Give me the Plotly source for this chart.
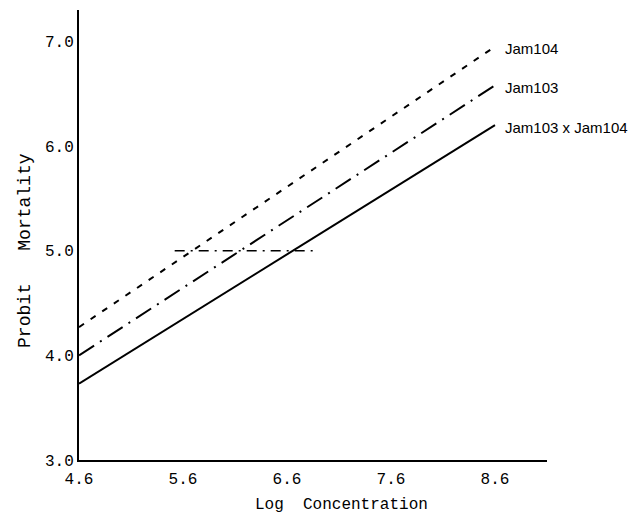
import plotly.graph_objects as go

# Fitted probit regression lines (log concentration vs probit mortality)
strains = ["Jam104", "Jam103", "Jam103 x Jam104"]
log_conc = [4.6, 8.6]
probit_jam104 = [4.27, 6.95]
probit_jam103 = [4.00, 6.58]
probit_cross = [3.73, 6.20]

# LC50 reference segment at probit 5.0
lc50_x = [5.52, 6.86]
lc50_y = [5.0, 5.0]

x_ticks = [4.6, 5.6, 6.6, 7.6, 8.6]
x_tick_text = ["4.6", "5.6", "6.6", "7.6", "8.6"]
y_ticks = [3.0, 4.0, 5.0, 6.0, 7.0]
y_tick_text = ["3.0", "4.0", "5.0", "6.0", "7.0"]

series = [
    (strains[0], probit_jam104, "6px,8px"),
    (strains[1], probit_jam103, "18px,7px,2px,7px"),
    (strains[2], probit_cross, "solid"),
]

mono = "Liberation Mono"

fig = go.Figure()
for name, ys, dash in series:
    fig.add_trace(go.Scatter(
        x=log_conc, y=ys, mode="lines", name=name,
        line=dict(color="black", width=2, dash=dash),
        showlegend=False,
    ))
    fig.add_annotation(
        x=log_conc[-1], y=ys[-1], text=name, showarrow=False,
        xanchor="left", yanchor="middle", xshift=8, yshift=-2,
        font=dict(family="Liberation Sans", size=15, color="black"),
    )

fig.add_trace(go.Scatter(
    x=lc50_x, y=lc50_y, mode="lines",
    line=dict(color="black", width=1.6, dash="10px,6px,2px,6px"),
    showlegend=False,
))

# Axis titles placed as paper annotations
fig.add_annotation(
    xref="paper", yref="paper", x=0.56, y=-0.10, xanchor="center", yanchor="middle",
    text="Log  Concentration", showarrow=False,
    font=dict(family=mono, size=16, color="black"),
)
fig.add_annotation(
    xref="paper", yref="paper", x=-0.115, y=0.465, xanchor="center", yanchor="middle",
    text="Probit   Mortality", showarrow=False, textangle=-90,
    font=dict(family=mono, size=18, color="black"),
)

fig.update_layout(
    width=643, height=521,
    margin=dict(l=79, r=96, t=10, b=61),
    paper_bgcolor="white", plot_bgcolor="white",
    xaxis=dict(
        range=[4.6, 9.1], tickvals=x_ticks, ticktext=x_tick_text,
        showgrid=False, zeroline=False, showline=True,
        linecolor="black", linewidth=2, ticks="outside", ticklen=3,
        tickcolor="white",
        tickfont=dict(family=mono, size=16, color="black"),
    ),
    yaxis=dict(
        range=[3.0, 7.3], tickvals=y_ticks, ticktext=y_tick_text,
        showgrid=False, zeroline=False, showline=True,
        linecolor="black", linewidth=2, ticks="",
        tickfont=dict(family=mono, size=16, color="black"),
    ),
)

fig.write_html("out.html")
